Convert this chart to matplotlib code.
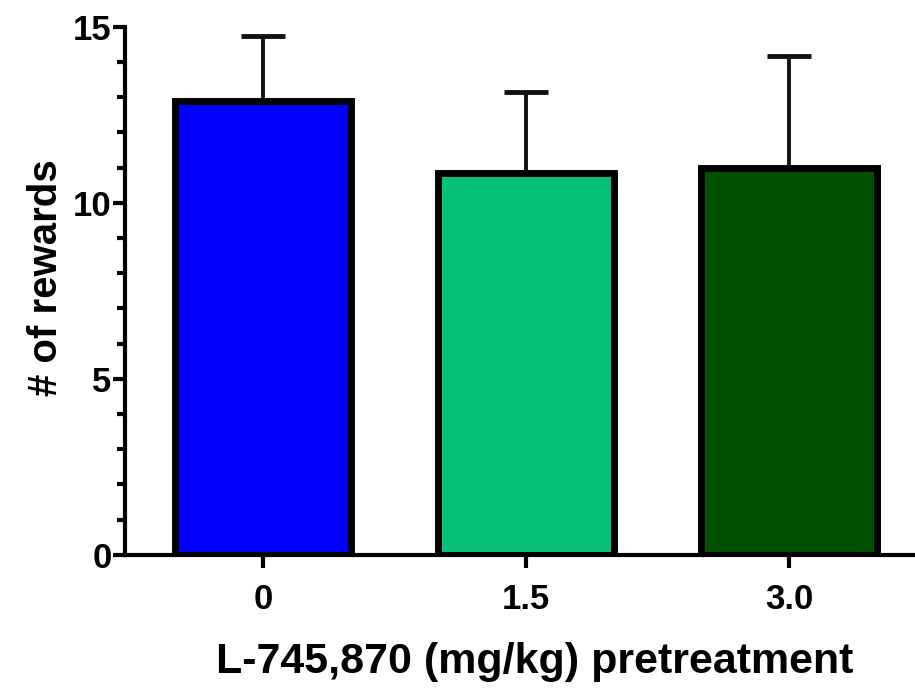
import matplotlib
matplotlib.use("Agg")
import matplotlib.pyplot as plt
from matplotlib.ticker import MultipleLocator

categories = ["0", "1.5", "3.0"]
means = [12.9, 10.85, 11.0]
sems = [1.85, 2.3, 3.17]
colors = ["#0000FF", "#08BF78", "#005200"]

plt.rcParams['font.family'] = ['Liberation Sans', 'DejaVu Sans']
fig = plt.figure(figsize=(9.15, 6.9), dpi=100)
ax = fig.add_axes([0.137, 0.196, 0.863, 0.765])

x = range(len(categories))
ax.bar(x, means, width=0.67, color=colors, edgecolor="black", linewidth=5, zorder=2)
ax.errorbar(x, means, yerr=[[0]*3, sems], fmt="none", ecolor="#111111",
            elinewidth=2.8, capsize=16, capthick=3.5, zorder=1)

ax.set_xlim(-0.525, 2.48)
ax.set_ylim(0, 15)
ax.yaxis.set_major_locator(MultipleLocator(5))
ax.yaxis.set_minor_locator(MultipleLocator(1))
ax.set_xticks(list(x))
ax.set_xticklabels(categories)
for s in ["top", "right"]:
    ax.spines[s].set_visible(False)
for s in ["left", "bottom"]:
    ax.spines[s].set_linewidth(3)
ax.tick_params(axis="both", which="major", width=3, length=9, labelsize=25)
ax.tick_params(axis="x", which="major", pad=11)
ax.tick_params(axis="y", which="major", pad=1)
ax.tick_params(axis="y", which="minor", width=3, length=6)
for lab in ax.get_xticklabels() + ax.get_yticklabels():
    lab.set_fontweight("bold")
ax.set_ylabel("# of rewards", fontsize=29, fontweight="bold")
ax.set_xlabel("L-745,870 (mg/kg) pretreatment", fontsize=31, fontweight="bold")
ax.yaxis.set_label_coords(-0.077, 0.525)
ax.xaxis.set_label_coords(0.519, -0.165)

fig.savefig("out.png", dpi=100)
